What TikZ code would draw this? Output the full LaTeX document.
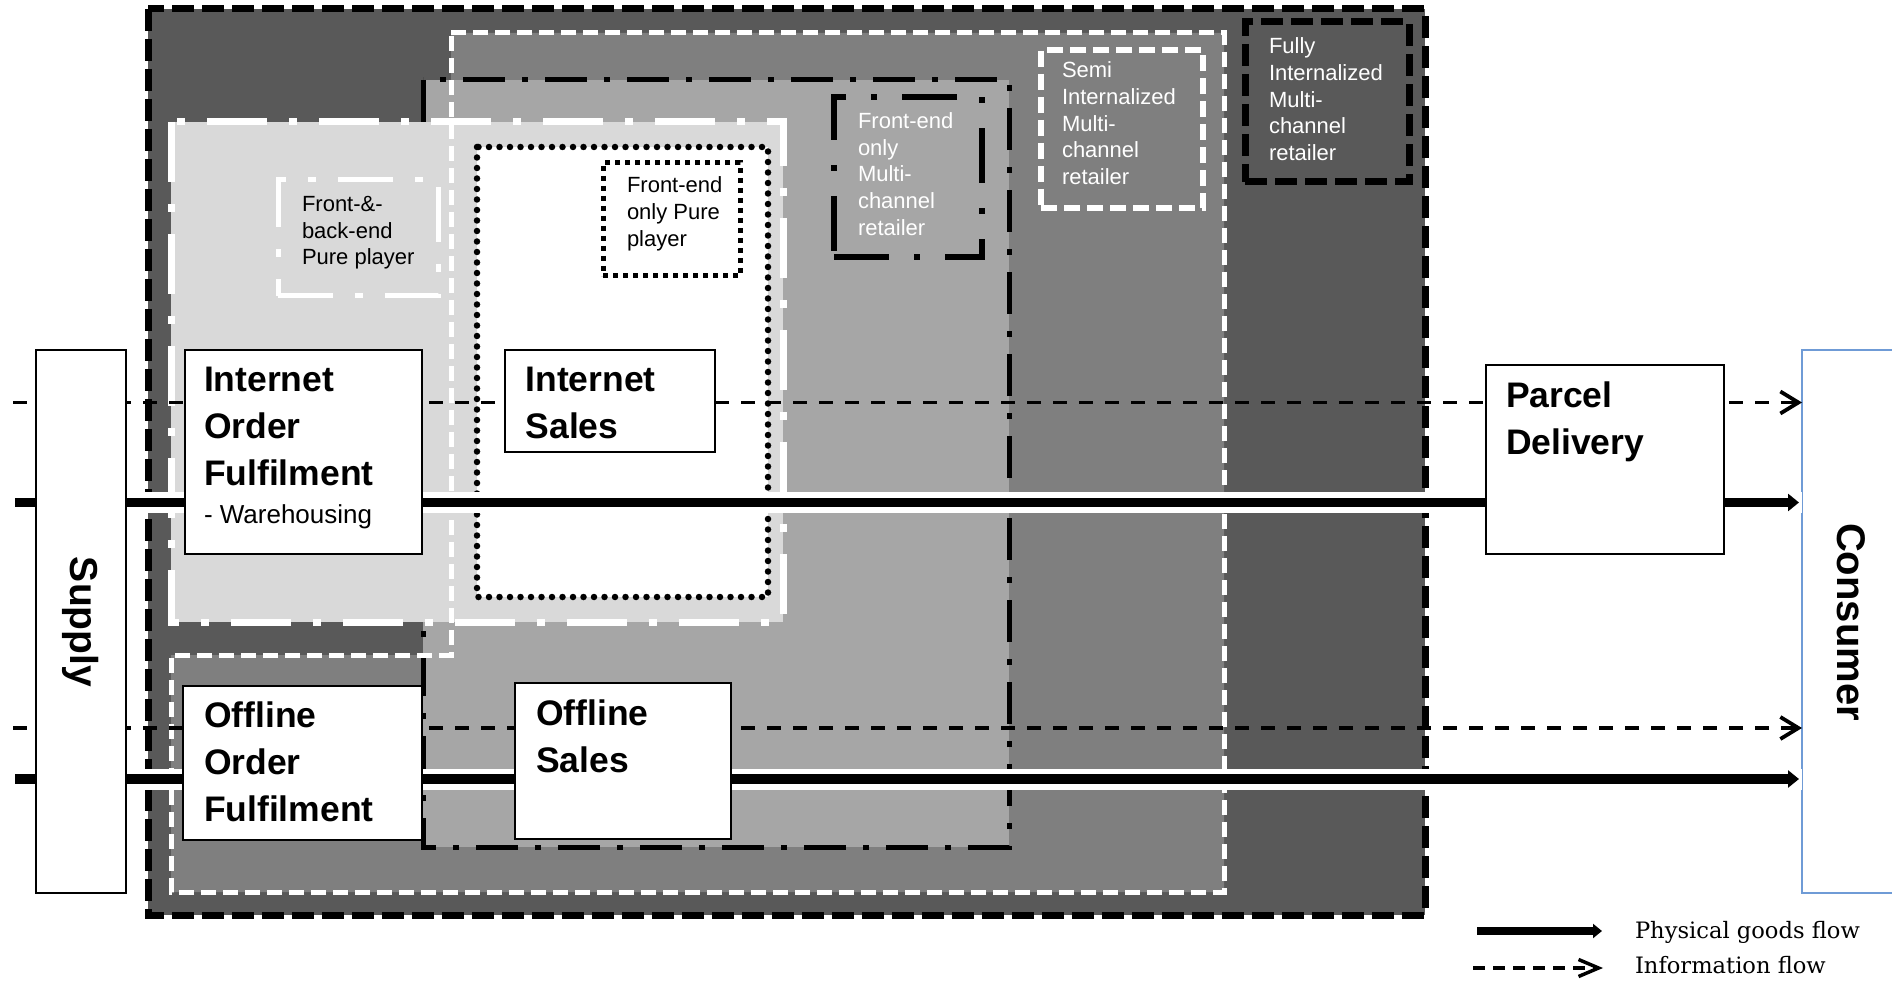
\documentclass[tikz,border=0pt]{standalone}
\usepackage{fontspec}
\setmainfont{Liberation Sans}
\newfontfamily\legfont{DejaVu Serif}
\usetikzlibrary{arrows.meta}
\definecolor{cDark}{HTML}{595959}
\definecolor{cMid}{HTML}{7F7F7F}
\definecolor{cLight}{HTML}{A6A6A6}
\definecolor{cPale}{HTML}{D9D9D9}
\definecolor{cBlue}{HTML}{6F9BD6}
\begin{document}
\begin{tikzpicture}[x=1pt,y=-1pt,
  every node/.style={inner sep=0pt, outer sep=0pt},
  outerbd/.style={draw=black, fill=cDark, line width=7pt, dash pattern=on 22pt off 8pt},
  semifill/.style={fill=cMid},
  semibd/.style={draw=white, line width=5pt, dash pattern=on 15pt off 7pt},
  fomcbd/.style={draw=black, fill=cLight, line width=5pt, dash pattern=on 42pt off 17pt on 6pt off 17pt},
  fbppbd/.style={draw=white, fill=cPale, line width=7pt, dash pattern=on 60pt off 22pt on 8pt off 22pt},
  foppbd/.style={draw=black, fill=white, line width=6.5pt, line cap=round, dash pattern=on 0pt off 10.5pt},
  lblbox/.style={rectangle, anchor=north west},
  lbl1/.style={lblbox, draw=white, line width=5pt, dash pattern=on 55pt off 22pt on 8pt off 22pt},
  lbl2/.style={lblbox, draw=black, fill=white, line width=5pt, dash pattern=on 5pt off 5pt},
  lbl3/.style={lblbox, draw=black, line width=6.5pt, dash pattern=on 55pt off 25pt on 6pt off 25pt},
  lbl4/.style={lblbox, draw=white, line width=5.5pt, dash pattern=on 16pt off 7pt},
  lbl5/.style={lblbox, draw=black, line width=7pt, dash pattern=on 22pt off 8pt},
  lbltxt/.style={font=\fontsize{22}{26.8}\selectfont, align=left, anchor=north west},
  wbox/.style={rectangle, draw=black, fill=white, line width=1.8pt, anchor=north west},
  boxtitle/.style={font=\fontsize{35.5}{47}\selectfont\bfseries, align=left, anchor=north west},
  sidetxt/.style={font=\fontsize{39}{44}\selectfont\bfseries, rotate=-90},
  infoflow/.style={draw=black, line width=3.8pt, dash pattern=on 14pt off 12pt, -{Straight Barb[length=18pt,width=22pt]}},
  physhalo/.style={draw=white, line width=21pt},
  physflow/.style={draw=black, line width=9.5pt, -{Triangle[length=11pt,width=17pt]}},
  legtxt/.style={font=\legfont\fontsize{22.6}{26}\selectfont, anchor=base west}
]
\useasboundingbox (0,0) rectangle (1892,981);

% nested regions
\path[outerbd] (148,9) rectangle (1425,915);
\path[semifill] (451,33) -- (1224,33) -- (1224,892) -- (171,892) -- (171,655) -- (451,655) -- cycle;
\path[fomcbd] (423,80) rectangle (1009,847);
\path[fbppbd] (171,122) rectangle (783,622);
\path[semibd] (451,33) -- (1224,33) -- (1224,892) -- (171,892) -- (171,655) -- (451,655) -- cycle;
\path[foppbd] (477,147) rectangle (768,597);

% legend boxes of retailer types
\node[lbl1, minimum width=160pt, minimum height=116pt] (f1) at (278,180) {};
\node[lbltxt, text=black] (f1t) at (302,196) {Front-\&-\\back-end\\Pure player};
\node[lbl2, minimum width=137pt, minimum height=113pt] (f2) at (603,163) {};
\node[lbltxt, text=black] (f2t) at (627,177) {Front-end\\only Pure\\player};
\node[lbl3, minimum width=148pt, minimum height=160pt] (f3) at (834,97) {};
\node[lbltxt, text=white] (f3t) at (858,112.3) {Front-end\\only\\Multi-\\channel\\retailer};
\node[lbl4, minimum width=162pt, minimum height=158pt] (f4) at (1041,50) {};
\node[lbltxt, text=white] (f4t) at (1062,61.6) {Semi\\Internalized\\Multi-\\channel\\retailer};
\node[lbl5, minimum width=164pt, minimum height=160pt] (f5) at (1245,22) {};
\node[lbltxt, text=white] (f5t) at (1269,37.6) {Fully\\Internalized\\Multi-\\channel\\retailer};

% consumer box (drawn before the flows)
\node[rectangle, draw=cBlue, fill=white, line width=1.5pt, anchor=north west,
      minimum width=90.5pt, minimum height=543pt] (cons) at (1802,350) {};

% flows
\coordinate (i1s) at (13,402.5);
\coordinate (p1s) at (15,502.5);
\coordinate (i2s) at (13,728);
\coordinate (p2s) at (15,779);
\draw[infoflow] (i1s) -- (cons.west |- i1s);
\draw[infoflow] (i2s) -- (cons.west |- i2s);
\draw[physhalo] (p1s) -- (cons.west |- p1s);
\draw[physhalo] (p2s) -- (cons.west |- p2s);
\draw[physflow, shorten >=3pt] (p1s) -- (cons.west |- p1s);
\draw[physflow, shorten >=3pt] (p2s) -- (cons.west |- p2s);

% white boxes
\node[wbox, minimum width=90pt, minimum height=543pt] (supply) at (36,350) {};
\node[wbox, minimum width=237pt, minimum height=204pt] (iof) at (185,350) {};
\node[wbox, minimum width=210pt, minimum height=102pt] (is) at (505,350) {};
\node[wbox, minimum width=239pt, minimum height=154pt] (oof) at (183,686) {};
\node[wbox, minimum width=216pt, minimum height=156pt] (os) at (515,683) {};
\node[wbox, minimum width=238pt, minimum height=189pt] (pd) at (1486,365) {};

% texts
\node[sidetxt] (supplyt) at (81,622) {Supply};
\node[sidetxt, font=\fontsize{40}{44}\selectfont\bfseries] (const) at (1851,622) {Consumer};
\node[boxtitle] (ioft) at (204,366.6) {Internet\\Order\\Fulfilment};
\node[font=\fontsize{26}{30}\selectfont, anchor=base west] (iofw) at (204,523) {- Warehousing};
\node[boxtitle] (ist) at (525.6,366.6) {Internet\\Sales};
\node[boxtitle] (ooft) at (204,701.5) {Offline\\Order\\Fulfilment};
\node[boxtitle] (ost) at (536,699.5) {Offline\\Sales};
\node[boxtitle] (pdt) at (1506,382) {Parcel\\Delivery};

% legend
\coordinate (lgpA) at (1477,931);
\coordinate (lgpB) at (1602,931);
\coordinate (lgiA) at (1473,968);
\coordinate (lgiB) at (1603,968);
\draw[black, line width=8.3pt, -{Triangle[length=9pt,width=14pt]}] (lgpA) -- (lgpB);
\draw[black, line width=3.5pt, dash pattern=on 12pt off 8pt, -{Straight Barb[length=20pt,width=17pt]}] (lgiA) -- (lgiB);
\node[legtxt] (lgp) at (1635,938) {Physical goods flow};
\node[legtxt] (lgi) at (1635,973) {Information flow};
\end{tikzpicture}
\end{document}
